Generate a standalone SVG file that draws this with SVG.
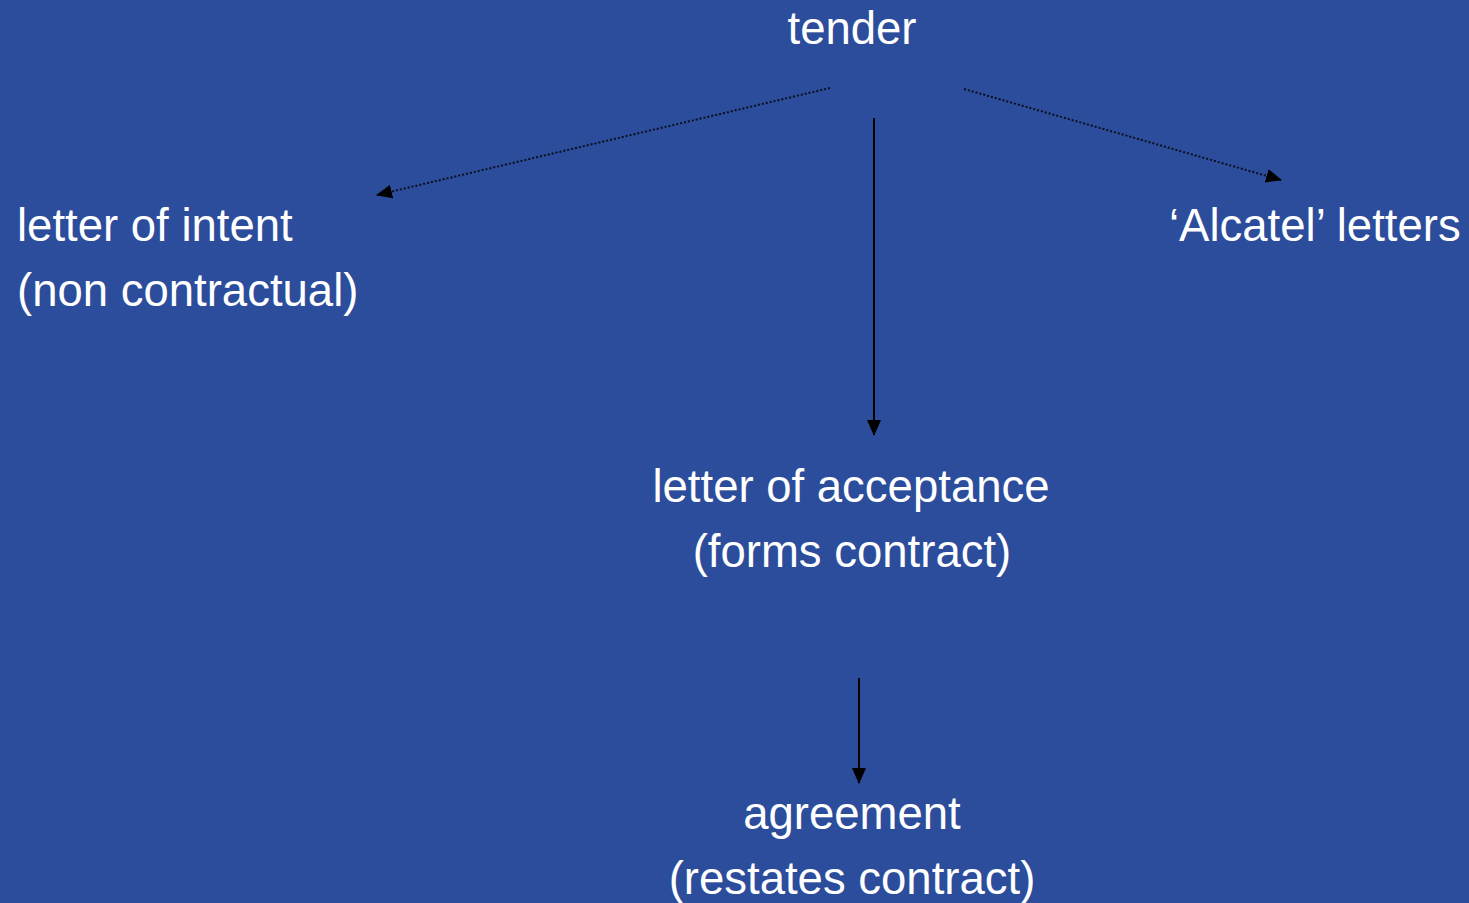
<svg xmlns="http://www.w3.org/2000/svg" width="1469" height="903" viewBox="0 0 1469 903">
<defs>
<style>
.t{font-family:"Liberation Sans",Arial,sans-serif;font-size:45.5px;fill:#ffffff}
.c{text-anchor:middle}
.solid{stroke:#000;stroke-width:2;fill:none}
.dot{stroke:#0a0f1e;stroke-width:2;stroke-dasharray:2,2;fill:none}
</style>
<marker id="ah2" markerWidth="16" markerHeight="14" refX="15" refY="7" orient="auto" markerUnits="userSpaceOnUse" viewBox="0 0 16 14">
<path d="M0,0 L16,7 L0,14 z" fill="#000"/>
</marker>
</defs>
<rect width="1469" height="903" fill="#2c4d9c"/>
<g id="connectors">
<line class="dot" x1="830" y1="88" x2="377" y2="195" marker-end="url(#ah2)"/>
<line class="dot" x1="964" y1="89" x2="1281" y2="180" marker-end="url(#ah2)"/>
<line class="solid" x1="874" y1="118" x2="874" y2="435" marker-end="url(#ah2)"/>
<line class="solid" x1="859" y1="678" x2="859" y2="783" marker-end="url(#ah2)"/>
</g>
<g id="tender"><text class="t c" x="852" y="44">tender</text></g>
<g id="intent"><text class="t" x="17" y="241">letter of intent</text><text class="t" x="17" y="306">(non contractual)</text></g>
<g id="alcatel"><text class="t" x="1169" y="241">‘Alcatel’ letters</text></g>
<g id="acceptance"><text class="t c" x="851" y="502">letter of acceptance</text><text class="t c" x="852" y="567">(forms contract)</text></g>
<g id="agreement"><text class="t c" x="852" y="829">agreement</text><text class="t c" x="852" y="894">(restates contract)</text></g>
</svg>
